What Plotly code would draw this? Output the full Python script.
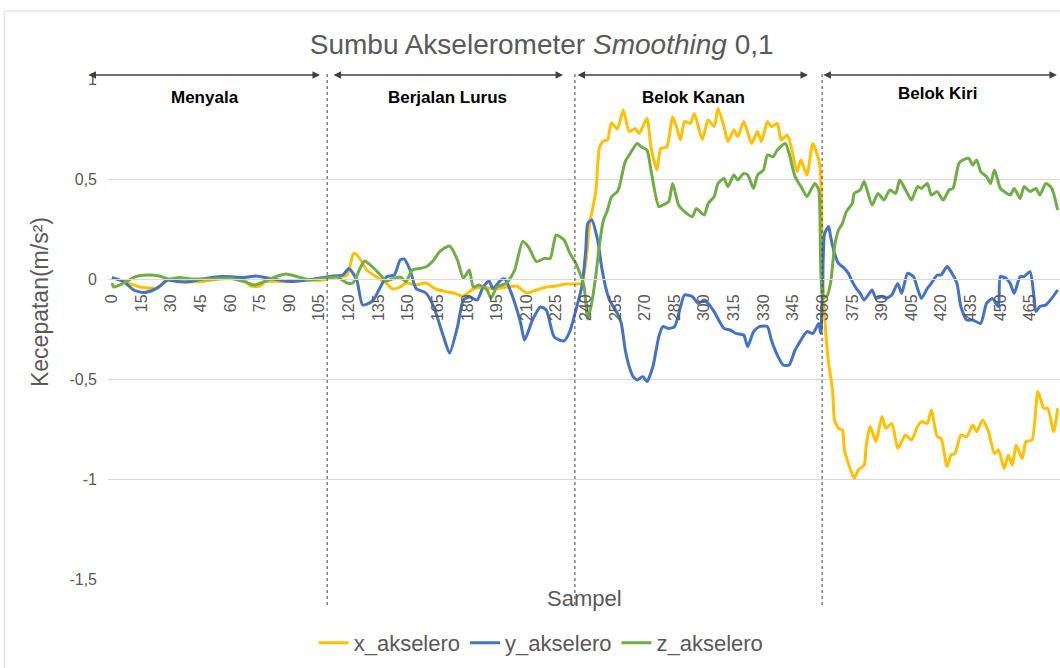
import plotly.graph_objects as go

# readings (sample, value)
x_akselero = [
    (0, 0.007), (6, -0.013), (14, -0.04), (18, -0.045), (23, -0.045), (25, -0.03), (29, -0.005),
    (33, -0.013), (45, -0.013), (55, 0.0), (67, 0.0), (70, -0.035), (75, -0.035), (78, -0.013),
    (90, -0.013), (94, -0.005), (100, -0.005), (107, -0.005), (112, 0.01), (119, 0.02), (122, 0.12),
    (123, 0.13), (126, 0.095), (129, 0.045), (134, 0.01), (139, -0.02), (142, -0.05), (146, -0.04),
    (149, -0.02), (154, -0.03), (159, -0.02), (164, -0.05), (169, -0.063), (173, -0.07), (178, -0.085),
    (183, -0.05), (188, -0.04), (193, -0.05), (200, -0.04), (205, -0.035), (210, -0.07), (215, -0.055),
    (220, -0.04), (225, -0.035), (230, -0.025), (235, -0.025), (238, -0.02), (240, 0.08), (242, 0.28),
    (245, 0.43), (247, 0.66), (249, 0.69), (251, 0.695), (253, 0.78), (256, 0.75), (259, 0.845),
    (262, 0.737), (265, 0.753), (267, 0.728), (271, 0.803), (273, 0.66), (276, 0.545), (278, 0.653),
    (281, 0.66), (284, 0.81), (286, 0.76), (288, 0.695), (290, 0.787), (293, 0.778), (295, 0.828),
    (299, 0.698), (302, 0.795), (305, 0.762), (307, 0.853), (310, 0.762), (312, 0.687), (315, 0.745),
    (317, 0.712), (320, 0.787), (324, 0.678), (327, 0.737), (329, 0.687), (332, 0.787), (334, 0.762),
    (337, 0.778), (339, 0.695), (342, 0.72), (344, 0.662), (347, 0.537), (349, 0.595), (352, 0.52),
    (355, 0.678), (358, 0.595), (359, 0.512), (360, 0.05), (361, -0.19), (363, -0.42), (365, -0.555),
    (366, -0.705), (368, -0.747), (370, -0.755), (371, -0.855), (373, -0.922), (376, -0.997),
    (378, -0.955), (381, -0.93), (382, -0.838), (384, -0.738), (387, -0.813), (390, -0.688),
    (392, -0.747), (395, -0.722), (398, -0.847), (400, -0.813), (402, -0.78), (405, -0.805),
    (408, -0.738), (410, -0.713), (413, -0.722), (415, -0.655), (418, -0.788), (420, -0.797),
    (423, -0.938), (425, -0.88), (427, -0.872), (430, -0.78), (433, -0.788), (436, -0.73),
    (438, -0.763), (441, -0.705), (444, -0.763), (447, -0.872), (449, -0.855), (452, -0.947),
    (454, -0.88), (456, -0.93), (458, -0.83), (461, -0.897), (463, -0.813), (466, -0.805),
    (469, -0.563), (472, -0.647), (474, -0.647), (477, -0.763), (479, -0.647),
]

y_akselero = [
    (0, 0.007), (6, -0.013), (11, -0.055), (16, -0.068), (21, -0.055), (24, -0.038), (28, -0.005),
    (33, -0.013), (40, -0.013), (46, 0.0), (56, 0.012), (67, 0.008), (73, 0.015), (80, 0.003),
    (90, -0.013), (97, -0.008), (104, 0.003), (112, 0.015), (117, 0.02), (120, 0.053), (124, -0.005),
    (127, -0.13), (132, -0.11), (136, -0.04), (139, 0.01), (143, 0.02), (146, 0.095), (148, 0.1),
    (151, 0.045), (154, -0.047), (159, -0.07), (163, -0.14), (168, -0.29), (171, -0.37), (175, -0.24),
    (178, -0.105), (181, -0.09), (185, -0.105), (188, -0.04), (191, -0.01), (193, -0.047),
    (197, -0.005), (199, 0.0), (203, -0.09), (207, -0.22), (209, -0.305), (213, -0.205), (217, -0.14),
    (220, -0.155), (224, -0.29), (229, -0.31), (232, -0.26), (235, -0.155), (238, -0.038),
    (240, 0.145), (241, 0.278), (243, 0.295), (246, 0.195), (248, 0.062), (250, -0.038),
    (252, -0.105), (256, -0.172), (258, -0.222), (260, -0.355), (262, -0.438), (264, -0.488),
    (266, -0.505), (269, -0.488), (271, -0.513), (274, -0.438), (277, -0.288), (279, -0.238),
    (282, -0.247), (285, -0.238), (288, -0.138), (290, -0.08), (294, -0.088), (297, -0.122),
    (300, -0.105), (302, -0.122), (305, -0.163), (310, -0.247), (313, -0.255), (316, -0.272),
    (320, -0.28), (322, -0.338), (325, -0.263), (328, -0.238), (332, -0.238), (334, -0.305),
    (337, -0.38), (340, -0.43), (343, -0.43), (346, -0.355), (348, -0.322), (352, -0.263),
    (355, -0.272), (358, -0.222), (359, -0.272), (360, 0.0), (361, 0.228), (363, 0.262), (364, 0.212),
    (366, 0.128), (368, 0.078), (371, 0.053), (373, 0.028), (375, -0.013), (377, -0.047),
    (379, -0.072), (381, -0.105), (385, -0.055), (387, -0.097), (390, -0.088), (392, -0.097),
    (395, -0.08), (398, -0.022), (400, -0.072), (403, 0.028), (406, 0.012), (408, -0.047),
    (410, -0.097), (413, -0.047), (415, -0.022), (418, 0.02), (420, 0.02), (423, 0.062), (425, 0.037),
    (428, -0.022), (430, -0.138), (433, -0.205), (436, -0.205), (440, -0.222), (443, -0.122),
    (446, -0.097), (449, -0.138), (450, 0.012), (453, 0.003), (455, -0.022), (457, -0.072),
    (460, 0.012), (462, 0.012), (465, 0.037), (467, -0.088), (468, -0.163), (470, -0.138),
    (473, -0.13), (476, -0.097), (479, -0.055),
]

z_akselero = [
    (0, -0.02), (1, -0.04), (6, -0.02), (12, 0.012), (18, 0.02), (24, 0.015), (29, 0.0), (34, 0.007),
    (40, 0.0), (50, 0.0), (60, 0.003), (67, -0.013), (72, -0.03), (77, -0.013), (83, 0.012),
    (88, 0.025), (94, 0.012), (100, -0.005), (107, 0.003), (114, 0.01), (119, -0.02), (122, -0.02),
    (126, 0.06), (128, 0.09), (132, 0.06), (136, 0.02), (139, -0.01), (142, 0.0), (146, 0.01),
    (149, -0.013), (152, 0.045), (156, 0.053), (159, 0.06), (163, 0.095), (166, 0.137), (171, 0.165),
    (175, 0.095), (178, 0.003), (181, 0.045), (183, -0.04), (186, -0.03), (190, -0.055),
    (192, -0.097), (195, -0.04), (200, -0.02), (204, 0.045), (208, 0.187), (211, 0.16), (215, 0.087),
    (219, 0.103), (222, 0.103), (225, 0.22), (229, 0.195), (232, 0.128), (235, 0.078), (239, -0.03),
    (241, -0.2), (243, -0.12), (245, 0.01), (247, 0.178), (249, 0.295), (251, 0.345), (253, 0.41),
    (256, 0.437), (257, 0.462), (260, 0.587), (262, 0.62), (266, 0.678), (268, 0.662), (271, 0.645),
    (273, 0.545), (277, 0.362), (279, 0.37), (282, 0.387), (284, 0.478), (287, 0.37), (290, 0.337),
    (294, 0.312), (296, 0.353), (300, 0.32), (302, 0.378), (305, 0.412), (307, 0.478), (310, 0.503),
    (312, 0.462), (315, 0.52), (317, 0.495), (320, 0.528), (322, 0.52), (325, 0.453), (327, 0.52),
    (330, 0.545), (332, 0.62), (335, 0.612), (337, 0.645), (341, 0.678), (343, 0.628), (346, 0.512),
    (349, 0.462), (352, 0.412), (354, 0.445), (356, 0.478), (358, 0.445), (360, -0.088),
    (362, -0.088), (364, -0.02), (366, 0.162), (368, 0.245), (370, 0.278), (372, 0.337), (375, 0.378),
    (376, 0.428), (379, 0.445), (381, 0.487), (385, 0.37), (388, 0.428), (391, 0.395), (394, 0.445),
    (397, 0.428), (399, 0.495), (402, 0.445), (405, 0.395), (408, 0.462), (410, 0.453), (413, 0.478),
    (415, 0.42), (418, 0.437), (421, 0.395), (424, 0.445), (426, 0.453), (429, 0.578), (431, 0.595),
    (434, 0.603), (436, 0.57), (438, 0.595), (440, 0.537), (443, 0.512), (445, 0.478), (447, 0.545),
    (450, 0.453), (452, 0.437), (455, 0.42), (457, 0.453), (460, 0.403), (462, 0.462), (465, 0.437),
    (468, 0.453), (470, 0.42), (473, 0.478), (476, 0.453), (479, 0.345),
]

x_ticks = [0, 15, 30, 45, 60, 75, 90, 105, 120, 135, 150, 165, 180, 195, 210, 225, 240,
           255, 270, 285, 300, 315, 330, 345, 360, 375, 390, 405, 420, 435, 450, 465]
y_ticks = [-1.5, -1, -0.5, 0, 0.5, 1]
y_ticktext = ['-1,5', '-1', '-0,5', '0', '0,5', '1']

# phase boundaries (sample) and labels
batas = [109, 234.5, 359.7]
fase = ['Menyala', 'Berjalan Lurus', 'Belok Kanan', 'Belok Kiri']

FONT = "Liberation Sans, Arial, sans-serif"
GREY = '#595959'

series = [
    ('x_akselero', x_akselero, '#FFC000'),
    ('y_akselero', y_akselero, '#4472C4'),
    ('z_akselero', z_akselero, '#70AD47'),
]

fig = go.Figure()
for name, data, color in series:
    fig.add_trace(go.Scatter(
        x=[p[0] for p in data],
        y=[p[1] for p in data],
        name=name,
        mode='lines',
        line=dict(color=color, width=3, shape='spline', smoothing=0.6),
        cliponaxis=False,
    ))

# dotted dividers
for b in batas:
    fig.add_shape(type='line', xref='x', yref='paper', x0=b, x1=b, y0=-0.052, y1=1.012,
                  line=dict(color='#404040', width=1, dash='dot'))

# chart border
fig.add_shape(type='rect', xref='paper', yref='paper', x0=-0.109, x1=1.2, y0=-0.2, y1=1.136,
              line=dict(color='#d9d9d9', width=1))

# double arrows above each phase (head x in paper, tail offset in px)
arrows = [(0.2227, -233), (0.478, -231), (0.7353, -232), (0.9968, -235)]
for hx, ax in arrows:
    fig.add_annotation(x=hx, y=1.008, xref='paper', yref='paper', ax=ax, ay=0,
                       axref='pixel', ayref='pixel', text='', showarrow=True,
                       arrowhead=2, arrowsize=1, arrowwidth=1.5, arrowside='end+start',
                       arrowcolor='#404040')

label_pos = [(0.102, 0.964), (0.357, 0.964), (0.6145, 0.964), (0.8708, 0.972)]
for txt, (lx, ly) in zip(fase, label_pos):
    fig.add_annotation(x=lx, y=ly, xref='paper', yref='paper', text='<b>' + txt + '</b>',
                       xanchor='center', yanchor='middle', showarrow=False,
                       font=dict(family=FONT, size=17, color='#000000'))

fig.add_annotation(x=0.5, y=-0.038, xref='paper', yref='paper', text='Sampel',
                   xanchor='center', yanchor='middle', showarrow=False,
                   font=dict(family=FONT, size=22, color=GREY))
fig.add_annotation(x=-0.0714, y=0.554, xref='paper', yref='paper', text='Kecepatan(m/s²)',
                   xanchor='center', yanchor='middle', textangle=-90, showarrow=False,
                   font=dict(family=FONT, size=23, color=GREY))

fig.update_layout(
    width=1060, height=668,
    margin=dict(l=108, r=0, t=79, b=89, autoexpand=False),
    paper_bgcolor='white', plot_bgcolor='white',
    font=dict(family=FONT, color=GREY),
    title=dict(text='Sumbu Akselerometer <i>Smoothing</i> 0,1', xref='container', x=0.511,
               y=0.934, xanchor='center', yanchor='middle',
               font=dict(family=FONT, size=28, color=GREY)),
    xaxis=dict(range=[-2, 480.2], anchor='free', position=0.6, showgrid=False, zeroline=False,
               showline=True, linecolor='#d9d9d9', linewidth=1,
               tickmode='array', tickvals=x_ticks, ticktext=[str(t) for t in x_ticks],
               tickangle=-90, ticks='', ticklabelstandoff=8,
               tickfont=dict(family=FONT, size=16, color=GREY)),
    yaxis=dict(range=[-1.5, 1], tickmode='array', tickvals=y_ticks, ticktext=y_ticktext,
               showgrid=True, gridcolor='#d9d9d9', gridwidth=1, zeroline=False, showline=False,
               ticks='', ticklabelstandoff=10,
               tickfont=dict(family=FONT, size=16, color=GREY)),
    legend=dict(orientation='h', x=0.455, xanchor='center',
                y=-0.128, yanchor='middle', font=dict(family=FONT, size=22, color=GREY)),
)

fig.write_html("out.html", config={'displayModeBar': False},
               post_script="document.body.style.margin='0';")
